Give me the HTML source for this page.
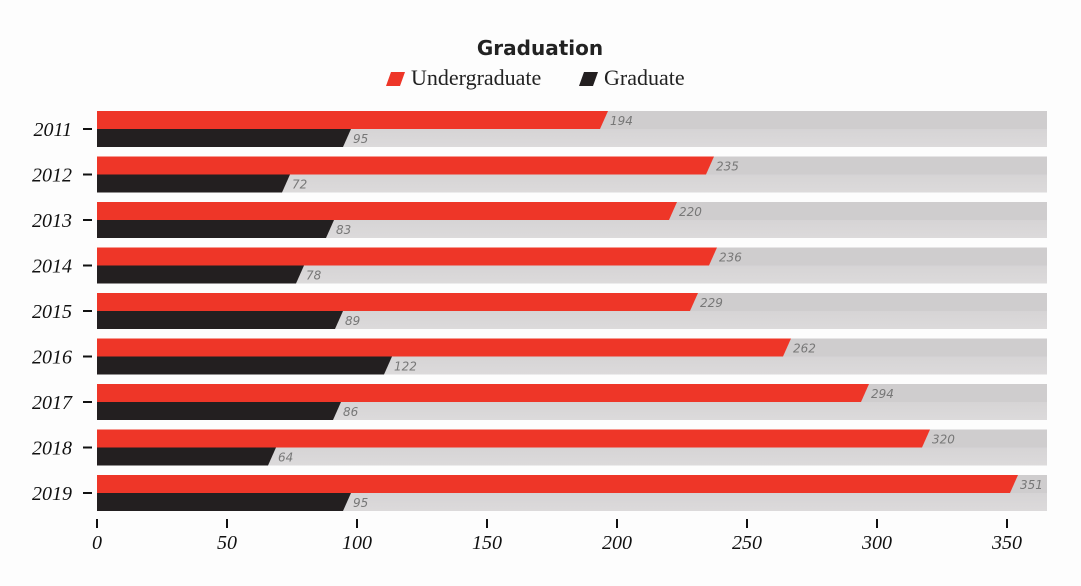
<!DOCTYPE html><html><head><style>body{margin:0;background:#fdfdfd}</style></head><body>
<svg width="1081" height="581" xmlns="http://www.w3.org/2000/svg" font-family="Liberation Serif, serif">
<defs><linearGradient id="g" x1="0" y1="0" x2="0" y2="1"><stop offset="0" stop-color="#d6d4d5"/><stop offset="1" stop-color="#dcdadb"/></linearGradient></defs>
<text x="540" y="55" text-anchor="middle" font-family="DejaVu Sans, sans-serif" font-weight="bold" font-size="20" fill="#222">Graduation</text>
<polygon points="386,86 400,86 405,72 391,72" fill="#ee3628"/>
<text x="411" y="85" font-size="22" fill="#222">Undergraduate</text>
<polygon points="579,86 593,86 598,72 584,72" fill="#231f20"/>
<text x="604" y="85" font-size="22" fill="#222">Graduate</text>
<g id="rows"></g>
</svg>
<script>
var u=[194,235,220,236,229,262,294,320,351],g=[95,72,83,78,89,122,86,64,95],s='';
var up=[600,706,669,709,690,783,861,922,1010],gp=[343,282,326,296,335,384,333,268,343];
function X(v){return 97+v*2.6}
for(var i=0;i<9;i++){var t=111+i*45.5;
s+='<rect x="97" y="'+t+'" width="950" height="18" fill="#cfcdce"/><rect x="97" y="'+(t+18)+'" width="950" height="18" fill="url(#g)"/>';
var a=up[i];s+='<polygon points="97,'+t+' '+(a+8)+','+t+' '+a+','+(t+18)+' 97,'+(t+18)+'" fill="#ee3628"/>';
s+='<text x="'+(a+10)+'" y="'+(t+14)+'" font-family="DejaVu Sans, sans-serif" font-style="italic" font-size="12" fill="#777">'+u[i]+'</text>';
var b=gp[i];s+='<polygon points="97,'+(t+18)+' '+(b+8)+','+(t+18)+' '+b+','+(t+36)+' 97,'+(t+36)+'" fill="#231f20"/>';
s+='<text x="'+(b+10)+'" y="'+(t+32)+'" font-family="DejaVu Sans, sans-serif" font-style="italic" font-size="12" fill="#777">'+g[i]+'</text>';
s+='<rect x="83" y="'+(t+17)+'" width="9" height="2" fill="#111"/><text x="72" y="'+(t+25)+'" text-anchor="end" font-style="italic" font-size="20" fill="#111">'+(2011+i)+'</text>';}
for(var v=0;v<=350;v+=50){var x=X(v);s+='<rect x="'+(x-1)+'" y="519" width="2" height="9" fill="#111"/><text x="'+x+'" y="549" text-anchor="middle" font-style="italic" font-size="20" fill="#111">'+v+'</text>';}
document.getElementById('rows').innerHTML=s;
</script></body></html>
